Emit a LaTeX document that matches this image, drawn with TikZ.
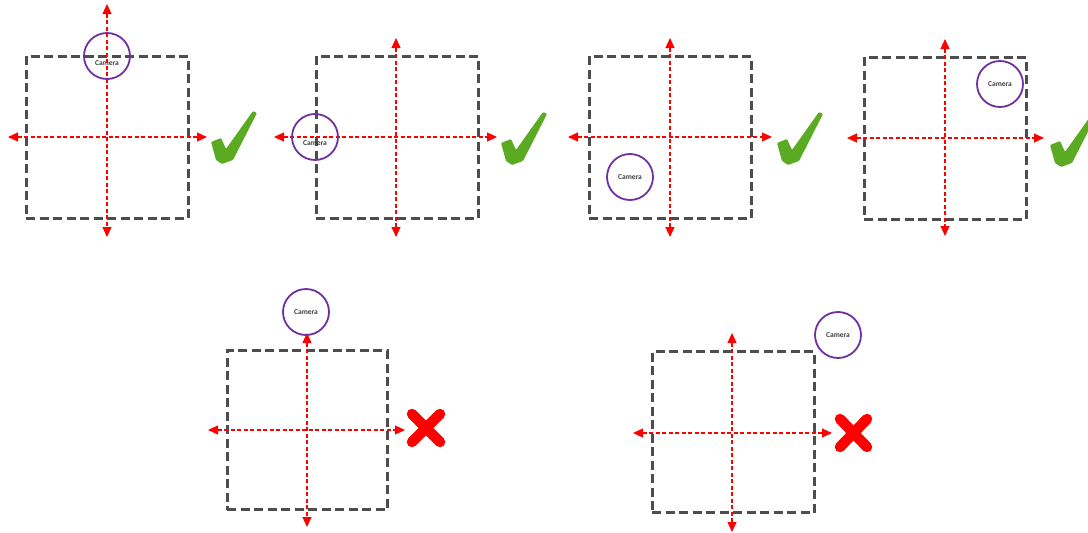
\documentclass[tikz,border=0pt]{standalone}
\usepackage{fontspec}
\setsansfont{Carlito}
\usetikzlibrary{arrows.meta}
\definecolor{boxgray}{HTML}{4D4D4D}
\definecolor{axred}{HTML}{FF0000}
\definecolor{campurple}{HTML}{7030A0}
\definecolor{okgreen}{HTML}{5AAB22}
\tikzset{
  field/.style={draw=boxgray, line width=3pt, dash pattern=on 9pt off 4.5pt, rectangle, inner sep=0pt, minimum width=162pt, minimum height=162pt},
  axis/.style={draw=axred, line width=1.2pt, dash pattern=on 4pt off 2.5pt, {Triangle[length=10pt,width=9pt]}-{Triangle[length=10pt,width=9pt]}},
  camera/.style={circle, draw=campurple, line width=1.8pt, minimum size=46pt, inner sep=0pt, font=\sffamily\bfseries\fontsize{7.5}{8}\selectfont, text=black!75},
  tick/.style={fill=okgreen, rounded corners=1pt},
  cross/.style={draw=axred, line width=10.5pt, line cap=round},
}
\newcommand{\okmark}[2]{%
  \path[tick, shift={(#1,#2)}] (0,31) -- (10,27) -- (15,38) -- (42,0) -- (46,2) -- (22,49) -- (11,53) -- (5,49) -- cycle;}
\begin{document}
\begin{tikzpicture}[x=1pt,y=-1pt]
\useasboundingbox (0,0) rectangle (1088,533);
\clip (0,0) rectangle (1088,533);

% Panel 1
\node[field] (b1) at (107,137) {};
\coordinate (v1t) at (107,4); \coordinate (v1b) at (107,237);
\coordinate (h1l) at (8,137); \coordinate (h1r) at (207,137);
\draw[axis] (v1t) -- (v1b);
\draw[axis] (h1l) -- (h1r);
\node[camera] (c1) at (107,56) {\raisebox{-9pt}[0pt][0pt]{Camera}};
\okmark{211}{111}

% Panel 2
\node[field] (b2) at (397,137) {};
\coordinate (v2t) at (396,38); \coordinate (v2b) at (396,237);
\coordinate (h2l) at (274,137); \coordinate (h2r) at (497,137);
\draw[axis] (v2t) -- (v2b);
\draw[axis] (h2l) -- (h2r);
\node[camera] (c2) at (315,137) {\raisebox{-8pt}[0pt][0pt]{Camera}};
\okmark{501}{112}

% Panel 3
\node[field] (b3) at (670,137) {};
\coordinate (v3t) at (670,38); \coordinate (v3b) at (670,237);
\coordinate (h3l) at (568,137); \coordinate (h3r) at (772,137);
\draw[axis] (v3t) -- (v3b);
\draw[axis] (h3l) -- (h3r);
\node[camera] (c3) at (630,177) {Camera};
\okmark{777}{112}

% Panel 4
\node[field] (b4) at (945,138) {};
\coordinate (v4t) at (945,39); \coordinate (v4b) at (945,236);
\coordinate (h4l) at (847,138); \coordinate (h4r) at (1044,138);
\draw[axis] (v4t) -- (v4b);
\draw[axis] (h4l) -- (h4r);
\node[camera] (c4) at (1000,84) {Camera};
\okmark{1050}{114}

% Panel 5
\node[field, minimum width=160pt, minimum height=159pt] (b5) at (307,430) {};
\coordinate (v5t) at (307,333); \coordinate (v5b) at (307,527);
\coordinate (h5l) at (208,430); \coordinate (h5r) at (405,430);
\draw[axis] (v5t) -- (v5b);
\draw[axis] (h5l) -- (h5r);
\node[camera] (c5) at (306,312) {Camera};
\coordinate (x5a) at (412,414); \coordinate (x5b) at (440,442);
\coordinate (x5c) at (412,442); \coordinate (x5d) at (440,414);
\draw[cross] (x5a) -- (x5b);
\draw[cross] (x5c) -- (x5d);

% Panel 6
\node[field, minimum height=161pt] (b6) at (733,432) {};
\coordinate (v6t) at (732,333); \coordinate (v6b) at (732,532);
\coordinate (h6l) at (633,433); \coordinate (h6r) at (832,433);
\draw[axis] (v6t) -- (v6b);
\draw[axis] (h6l) -- (h6r);
\node[camera] (c6) at (838,335) {Camera};
\coordinate (x6a) at (840,419); \coordinate (x6b) at (867,447);
\coordinate (x6c) at (840,447); \coordinate (x6d) at (867,419);
\draw[cross] (x6a) -- (x6b);
\draw[cross] (x6c) -- (x6d);
\end{tikzpicture}
\end{document}
